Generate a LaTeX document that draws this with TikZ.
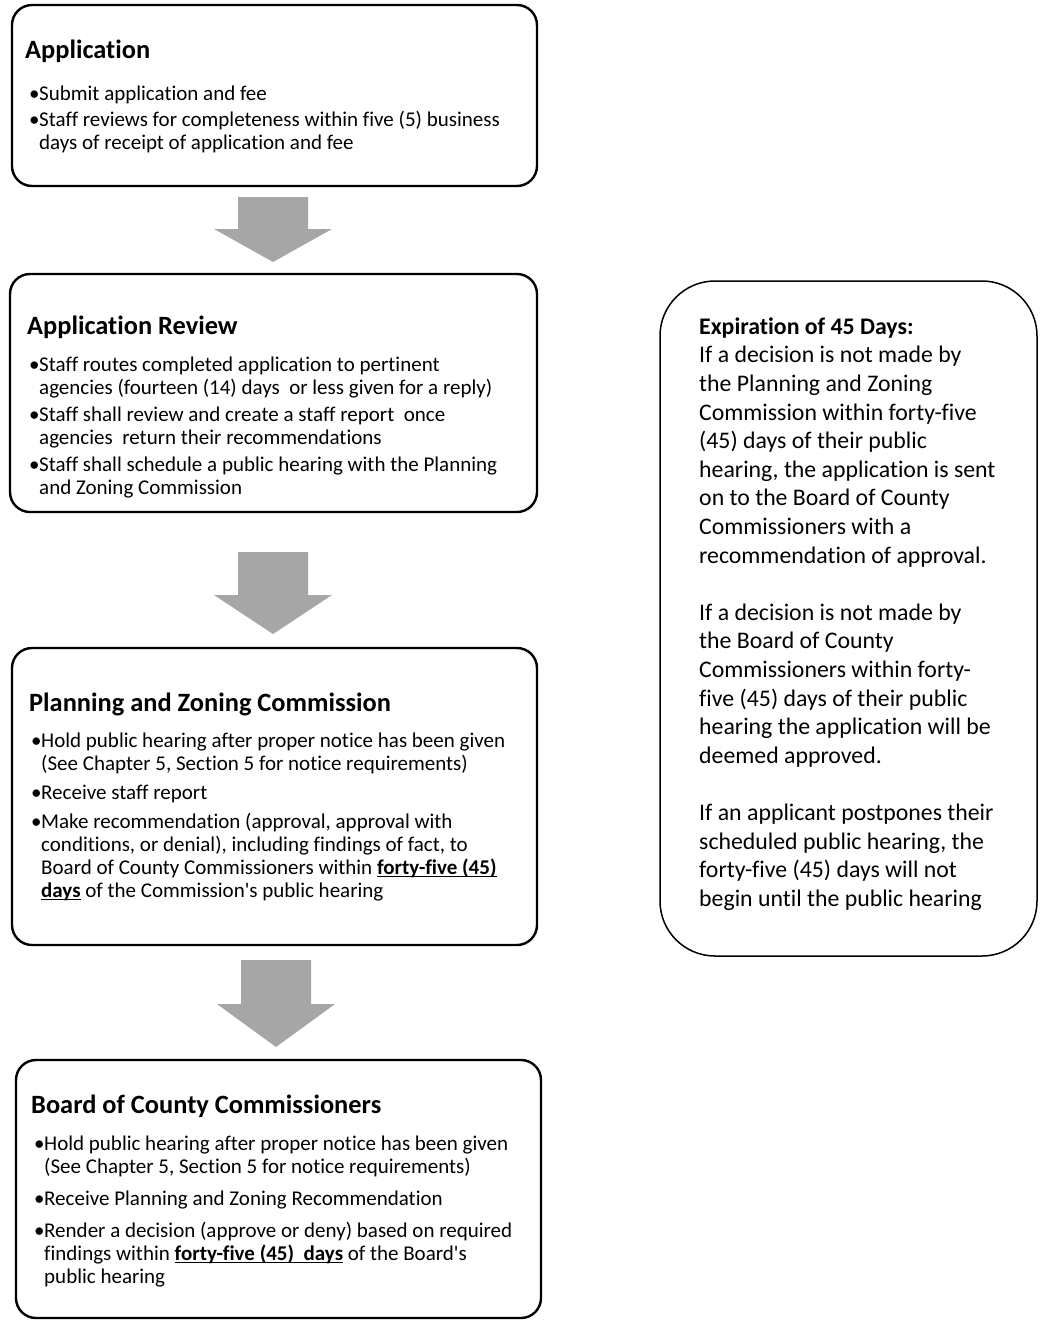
\documentclass[tikz,border=0pt]{standalone}
\usepackage{fontspec}
\setmainfont{Carlito}[Ligatures={TeXOff,NoCommon}]
\newcommand\ulbf[1]{\setbox0\hbox{\bfseries #1}\rlap{\rule[-3pt]{\wd0}{1.4pt}}\box0\relax}
\newcommand\bul{\strut\makebox[10pt][l]{•}}
\newcommand\ind{\hspace*{10pt}}
\begin{document}
\begin{tikzpicture}[x=1pt,y=-1pt,
  stagebox/.style={draw=black, line width=2.4pt, rounded corners=20pt, inner sep=0pt, fill=white},
  notebox/.style={draw=black, line width=1.5pt, rounded corners=55pt, inner sep=0pt, fill=white},
  titletext/.style={anchor=base west, inner sep=0pt, font=\fontsize{26.4}{30}\selectfont\bfseries},
  bodytext/.style={anchor=north west, inner sep=0pt, align=left, font=\fontsize{21}{23}\selectfont},
  notetext/.style={anchor=north west, inner sep=0pt, align=left, font=\fontsize{23.8}{28.6}\selectfont},
  arrowgray/.style={fill=black!35}
]
\useasboundingbox (0,0) rectangle (1040,1323);

% stage boxes
\node[stagebox, minimum width=525pt, minimum height=181pt] (b1) at (274.5,95.5) {};
\node[stagebox, minimum width=527pt, minimum height=238pt] (b2) at (273.5,393) {};
\node[stagebox, minimum width=525pt, minimum height=297pt] (b3) at (274.5,796.5) {};
\node[stagebox, minimum width=525pt, minimum height=258pt] (b4) at (278.5,1189) {};
\node[notebox, minimum width=377pt, minimum height=675pt] (note) at (848.5,618.5) {};

% block arrows between the stages
\newcommand\blockarrow[4]{\fill[arrowgray] (#1-35,#2) -- (#1+35,#2) -- (#1+35,#3) -- (#1+59,#3) -- (#1,#4) -- (#1-59,#3) -- (#1-35,#3) -- cycle;}
\blockarrow{273}{197}{229}{262}
\blockarrow{273}{552}{595}{634}
\blockarrow{276}{960}{1004}{1047}

% box 1 (first baseline = top + 16.1)
\node[titletext] (t1) at (25,58) {Application};
\node[bodytext] (x1) at (29,100-16.1) {\bul Submit application and fee\\[3pt]
\bul Staff reviews for completeness within five (5) business\\
\ind days of receipt of application and fee};

% box 2
\node[titletext] (t2) at (27,334) {Application Review};
\node[bodytext] (x2) at (29,371-16.1) {\bul Staff routes completed application to pertinent\\
\ind agencies (fourteen (14) days\ \ or less given for a reply)\\[4pt]
\bul Staff shall review and create a staff report\ \ once\\
\ind agencies\ \ return their recommendations\\[4pt]
\bul Staff shall schedule a public hearing with the Planning\\
\ind and Zoning Commission};

% box 3
\node[titletext] (t3) at (29,711) {Planning and Zoning Commission};
\node[bodytext] (x3) at (31,747-16.1) {\bul Hold public hearing after proper notice has been given\\
\ind (See Chapter 5, Section 5 for notice requirements)\\[6pt]
\bul Receive staff report\\[6pt]
\bul Make recommendation (approval, approval with\\
\ind conditions, or denial), including findings of fact, to\\
\ind Board of County Commissioners within \ulbf{forty-five (45)}\\
\ind \ulbf{days} of the Commission's public hearing};

% box 4
\node[titletext] (t4) at (31,1113) {Board of County Commissioners};
\node[bodytext] (x4) at (34,1150-16.1) {\bul Hold public hearing after proper notice has been given\\
\ind (See Chapter 5, Section 5 for notice requirements)\\[9pt]
\bul Receive Planning and Zoning Recommendation\\[9pt]
\bul Render a decision (approve or deny) based on required\\
\ind findings within \ulbf{forty-five (45)\ \ days} of the Board's\\
\ind public hearing};

% note box (first baseline = top + 20.0)
\node[notetext] (nt) at (699,334-20.0) {\strut\textbf{Expiration of 45 Days:}\\
If a decision is not made by\\
the Planning and Zoning\\
Commission within forty-five\\
(45) days of their public\\
hearing, the application is sent\\
on to the Board of County\\
Commissioners with a\\
recommendation of approval.\\[28.6pt]
If a decision is not made by\\
the Board of County\\
Commissioners within forty-\\
five (45) days of their public\\
hearing the application will be\\
deemed approved.\\[28.6pt]
If an applicant postpones their\\
scheduled public hearing, the\\
forty-five (45) days will not\\
begin until the public hearing};
\end{tikzpicture}
\end{document}
